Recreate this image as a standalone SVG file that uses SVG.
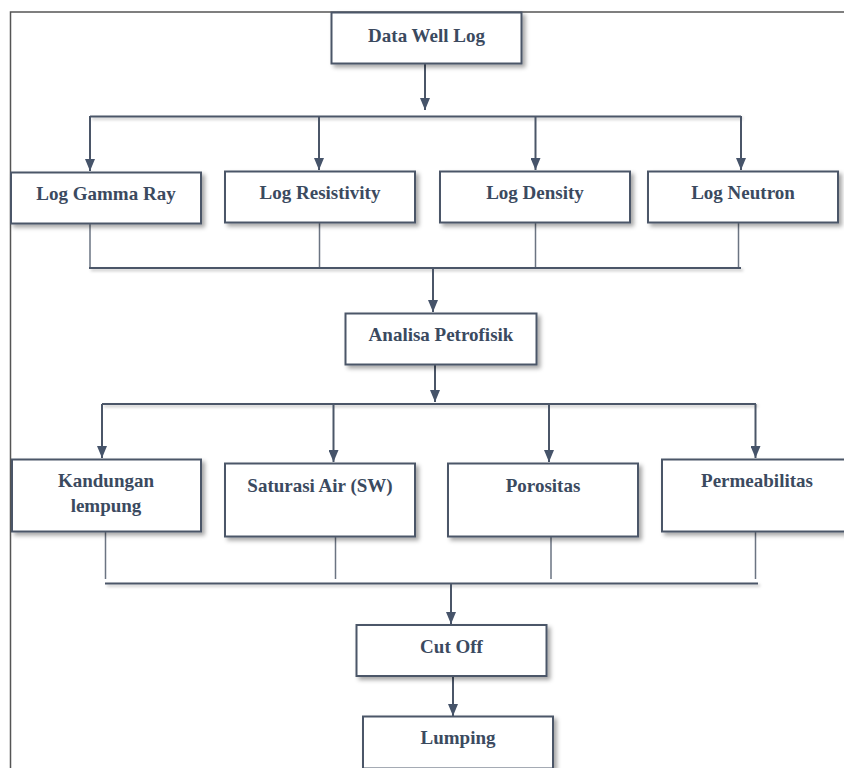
<svg xmlns="http://www.w3.org/2000/svg" width="844" height="768" viewBox="0 0 844 768">
<defs>
<filter id="sh" x="-10%" y="-10%" width="130%" height="140%">
<feDropShadow dx="3" dy="3" stdDeviation="2" flood-color="#000" flood-opacity="0.35"/>
</filter>
<filter id="lsh" filterUnits="userSpaceOnUse" x="0" y="0" width="844" height="768">
<feDropShadow dx="2" dy="2" stdDeviation="1.5" flood-color="#000" flood-opacity="0.25"/>
</filter>
<marker id="ah" viewBox="0 0 12 10" refX="12" refY="5" markerWidth="12" markerHeight="10" markerUnits="userSpaceOnUse" orient="auto">
<path d="M0,0 L12,5 L0,10 Z" fill="#46546a"/>
</marker>
</defs>
<style>
.box{fill:#fff;stroke:#4b5668;stroke-width:2;filter:url(#sh)}
.t{font-family:"Liberation Serif","Times New Roman",serif;font-weight:bold;font-size:19px;fill:#3b4a5f;text-anchor:middle}
.c{fill:none;stroke:#4b5668;stroke-width:2;filter:url(#lsh)}
.cl{fill:none;stroke:#6b7482;stroke-width:1.5}
.arr{fill:none;stroke:#4b5668;stroke-width:2;marker-end:url(#ah)}
.frame{fill:none;stroke:#555;stroke-width:1.5}
</style>
<rect width="844" height="768" fill="#fff"/>
<path class="frame" d="M10.5,768 V12 H844"/>

<g id="connectors">
<line class="arr" x1="425" y1="63" x2="425" y2="110"/>
<path class="c" d="M90,116.5 H741"/>
<line class="arr" x1="90" y1="116" x2="90" y2="171"/>
<line class="arr" x1="319" y1="116" x2="319" y2="170"/>
<line class="arr" x1="535.5" y1="116" x2="535.5" y2="170"/>
<line class="arr" x1="741" y1="116" x2="741" y2="170"/>
<path class="cl" d="M90,223 V268 M319.5,222 V268 M535.5,222 V268 M738.5,222 V268"/>
<path class="c" d="M89,268 H741"/>
<line class="arr" x1="433" y1="268" x2="433" y2="312"/>
<line class="arr" x1="435" y1="364" x2="435" y2="402"/>
<path class="c" d="M102,404 H756"/>
<line class="arr" x1="102" y1="404" x2="102" y2="458"/>
<line class="arr" x1="333.5" y1="404" x2="333.5" y2="462"/>
<line class="arr" x1="549" y1="404" x2="549" y2="462"/>
<line class="arr" x1="755.5" y1="404" x2="755.5" y2="458"/>
<path class="cl" d="M105.5,532 V579 M335.5,537 V579 M551,537 V579 M755.5,532 V579"/>
<path class="c" d="M105,583.5 H758"/>
<line class="arr" x1="451" y1="583" x2="451" y2="624"/>
<line class="arr" x1="453" y1="676" x2="453" y2="716"/>
</g>

<g id="data-well-log">
<rect class="box" x="331.5" y="12.5" width="190" height="51"/>
<text class="t" x="426.5" y="42">Data Well Log</text>
</g>
<g id="log-gamma-ray">
<rect class="box" x="11" y="172.5" width="190" height="51"/>
<text class="t" x="106" y="200">Log Gamma Ray</text>
</g>
<g id="log-resistivity">
<rect class="box" x="225" y="171.5" width="190" height="51"/>
<text class="t" x="320" y="199">Log Resistivity</text>
</g>
<g id="log-density">
<rect class="box" x="440" y="171.5" width="190" height="51"/>
<text class="t" x="535" y="199">Log Density</text>
</g>
<g id="log-neutron">
<rect class="box" x="648" y="171.5" width="190" height="51"/>
<text class="t" x="743" y="199">Log Neutron</text>
</g>
<g id="analisa-petrofisik">
<rect class="box" x="345.5" y="313.5" width="191" height="51"/>
<text class="t" x="441" y="341">Analisa Petrofisik</text>
</g>
<g id="kandungan-lempung">
<rect class="box" x="12" y="459.5" width="189" height="72"/>
<text class="t" x="106" y="486.5">Kandungan</text>
<text class="t" x="106" y="511.5">lempung</text>
</g>
<g id="saturasi-air">
<rect class="box" x="225" y="463.5" width="190" height="73"/>
<text class="t" x="320" y="491.5">Saturasi Air (SW)</text>
</g>
<g id="porositas">
<rect class="box" x="448" y="463.5" width="190" height="73"/>
<text class="t" x="543" y="491.5">Porositas</text>
</g>
<g id="permeabilitas">
<rect class="box" x="662" y="459.5" width="190" height="72"/>
<text class="t" x="757" y="486.5">Permeabilitas</text>
</g>
<g id="cut-off">
<rect class="box" x="356.5" y="625" width="190" height="51"/>
<text class="t" x="451.5" y="652.5">Cut Off</text>
</g>
<g id="lumping">
<rect class="box" x="363" y="716.5" width="190" height="52"/>
<text class="t" x="458" y="744">Lumping</text>
</g>
</svg>
